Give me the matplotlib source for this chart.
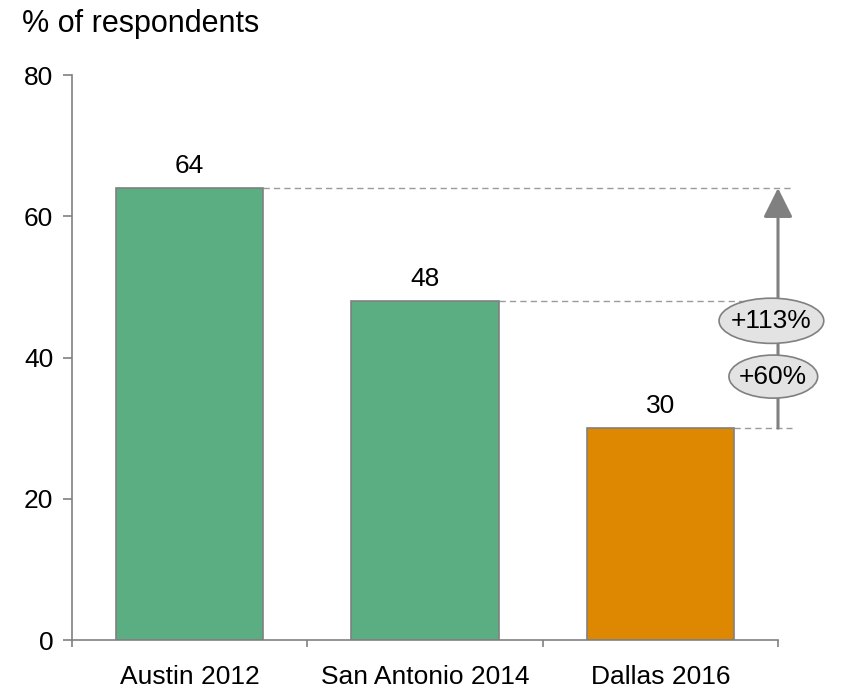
import matplotlib.pyplot as plt
from matplotlib.patches import Ellipse

plt.rcParams['font.family'] = ['Liberation Sans', 'DejaVu Sans']

# datos
categories = ['Austin 2012', 'San Antonio 2014', 'Dallas 2016']
values = [64, 48, 30]
bar_colors = ['#5aae82', '#5aae82', '#dd8800']
growth_labels = ['+113%', '+60%']

gray = '#808080'
fs = 19

fig = plt.figure(figsize=(8.43, 6.92), dpi=100)
ax = fig.add_axes([0.0854, 0.0751, 0.8375, 0.8165])

x = list(range(len(categories)))
ax.bar(x, values, width=0.627, color=bar_colors, edgecolor=gray, linewidth=1.2, zorder=2)

for xi, v in zip(x, values):
    ax.annotate(str(v), (xi, v), xytext=(0, 7), textcoords='offset points',
                ha='center', va='bottom', fontsize=fs)

# lineas punteadas desde la esquina de cada barra
for xi, v in zip(x, values):
    ax.plot([xi + 0.3135, 2.56], [v, v], ls=(0, (4.5, 3)), color='#9a9a9a',
            lw=1, clip_on=False, zorder=1)

# flecha
ax.annotate('', xy=(2.5, values[0]), xytext=(2.5, values[2]),
            arrowprops=dict(arrowstyle='-|>,head_length=1.8,head_width=0.9',
                            color=gray, lw=2.2, shrinkA=0, shrinkB=0),
            annotation_clip=False, zorder=3)

# elipses con el crecimiento
ell_specs = [(2.472, 45.2, 0.445, 6.4), (2.48, 37.3, 0.377, 6.1)]
for lab, (cx, cy, w, h) in zip(growth_labels, ell_specs):
    e = Ellipse((cx, cy), w, h, facecolor='#e3e3e3', edgecolor=gray, lw=1.2,
                clip_on=False, zorder=4)
    ax.add_patch(e)
    ax.text(cx, cy, lab, ha='center', va='center', fontsize=fs, zorder=5)

ax.set_xlim(-0.5, 2.5)
ax.set_ylim(0, 80)
ax.set_yticks([0, 20, 40, 60, 80])
ax.set_xticks(x)
ax.set_xticklabels(categories, fontsize=fs)
ax.tick_params(axis='x', length=0, pad=18)
ax.tick_params(axis='y', labelsize=fs, color=gray, length=6.5, width=1.2, pad=7)

# marcas entre categorias
ax.set_xticks([-0.5, 0.5, 1.5, 2.5], minor=True)
ax.tick_params(axis='x', which='minor', length=5, color=gray, width=1.2)

for s in ['top', 'right']:
    ax.spines[s].set_visible(False)
for s in ['left', 'bottom']:
    ax.spines[s].set_color(gray)
    ax.spines[s].set_linewidth(1.2)

fig.text(0.026, 0.966, '% of respondents', fontsize=22, va='center', ha='left')

fig.savefig('out.png', dpi=100)
